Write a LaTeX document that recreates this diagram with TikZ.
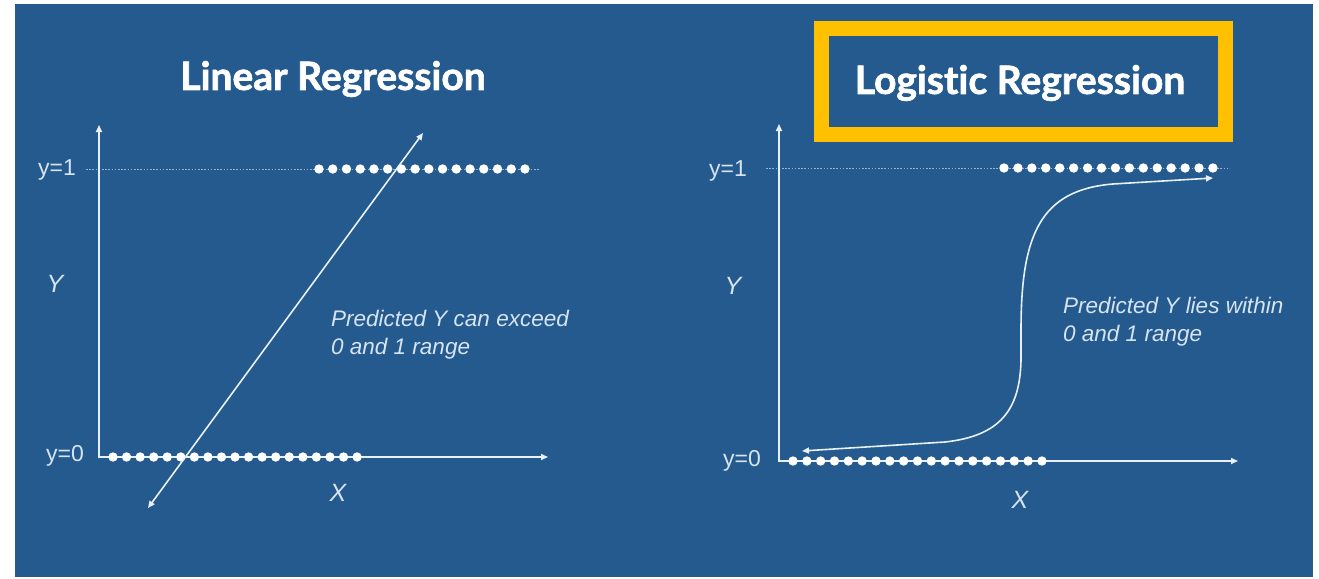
\documentclass[tikz,border=0pt]{standalone}
\usepackage{fontspec}
\setmainfont{Liberation Sans}
\newfontfamily\headfont{Lato}[Ligatures=NoCommon, BoldFeatures={FakeBold=1.6}]
\usetikzlibrary{arrows.meta}

\definecolor{panel}{RGB}{37,90,142}
\definecolor{ink}{RGB}{232,240,248}
\definecolor{soft}{RGB}{214,228,242}
\definecolor{guide}{RGB}{150,180,210}
\definecolor{gold}{RGB}{255,192,0}

\tikzset{
  axis/.style={draw=ink, line width=1.6pt, line join=miter,
    {Triangle[length=7pt,width=6pt]}-{Triangle[length=7pt,width=6pt]}},
  guideline/.style={draw=guide, line width=1pt, dash pattern=on 1.6pt off 1.6pt},
  pt/.style={fill=white},
  heading/.style={text=white, font=\headfont\bfseries\fontsize{39}{42}\selectfont, inner sep=0pt},
  ticklabel/.style={text=soft, font=\fontsize{23}{26}\selectfont, inner sep=0pt},
  varlabel/.style={text=soft, font=\itshape\fontsize{25}{28}\selectfont, inner sep=0pt},
  note/.style={text=soft, font=\itshape\fontsize{22.5}{28}\selectfont, inner sep=0pt,
    align=left, anchor=north west},
  framebox/.style={draw=gold, line width=15pt}
}

\begin{document}
\begin{tikzpicture}[x=1pt,y=-1pt]
  % page and panel
  \fill[white] (0,0) rectangle (1319,578);
  \fill[panel] (15,4) rectangle (1313,577);
  \useasboundingbox (0,0) rectangle (1319,578);

  % ---------- linear regression ----------
  \node[heading] (linTitle) at (333,79) {Linear Regression};

  \coordinate (LyTop) at (99,125);
  \coordinate (Lorig) at (99,457);
  \coordinate (LxEnd) at (548,457);
  \coordinate (LoneA) at (86,169);
  \coordinate (LoneB) at (540,169);

  \draw[guideline] (LoneA) -- (LoneB);
  \draw[axis] (LyTop) -- (Lorig) -- (LxEnd);

  \foreach \i in {0,...,15} \fill[pt] (319+\i*13.73,169) circle (4.7pt);
  \foreach \i in {0,...,18} \fill[pt] (113+\i*13.56,457) circle (4.7pt);

  \coordinate (LfitLow) at (148,508);
  \coordinate (LfitHigh) at (423,133);
  \draw[axis] (LfitLow) -- (LfitHigh);

  \node[ticklabel] (Lone) at (57,170) {y=1};
  \node[ticklabel] (Lzero) at (65,456) {y=0};
  \node[varlabel] (Ly) at (55,284) {Y};
  \node[varlabel] (Lx) at (338,493) {X};
  \node[note] (Lnote) at (331,310) {Predicted Y can exceed\\0 and 1 range};

  % ---------- logistic regression ----------
  \draw[framebox] (821.5,29) rectangle (1225.5,134);
  \node[heading] (logTitle) at (1020,83) {Logistic Regression};

  \coordinate (RyTop) at (779,124);
  \coordinate (Rorig) at (779,461);
  \coordinate (RxEnd) at (1238,461);
  \coordinate (RoneA) at (766,168);
  \coordinate (RoneB) at (1230,168);

  \draw[guideline] (RoneA) -- (RoneB);
  \draw[axis] (RyTop) -- (Rorig) -- (RxEnd);

  \foreach \i in {0,...,15} \fill[pt] (1004+\i*13.93,168) circle (4.7pt);
  \foreach \i in {0,...,18} \fill[pt] (793+\i*13.83,461) circle (4.7pt);

  \coordinate (SLow) at (802,451);
  \coordinate (SHigh) at (1213,178);
  \draw[axis] (SLow) -- (945,442)
    .. controls (1000,436) and (1020,410) .. (1021,360)
    -- (1021,330)
    .. controls (1021,235) and (1040,190) .. (1113,184)
    -- (SHigh);

  \node[ticklabel] (Rone) at (728,171) {y=1};
  \node[ticklabel] (Rzero) at (742,461) {y=0};
  \node[varlabel] (Ry) at (733,286) {Y};
  \node[varlabel] (Rx) at (1020,500) {X};
  \node[note] (Rnote) at (1063,297) {Predicted Y lies within\\0 and 1 range};
\end{tikzpicture}
\end{document}
